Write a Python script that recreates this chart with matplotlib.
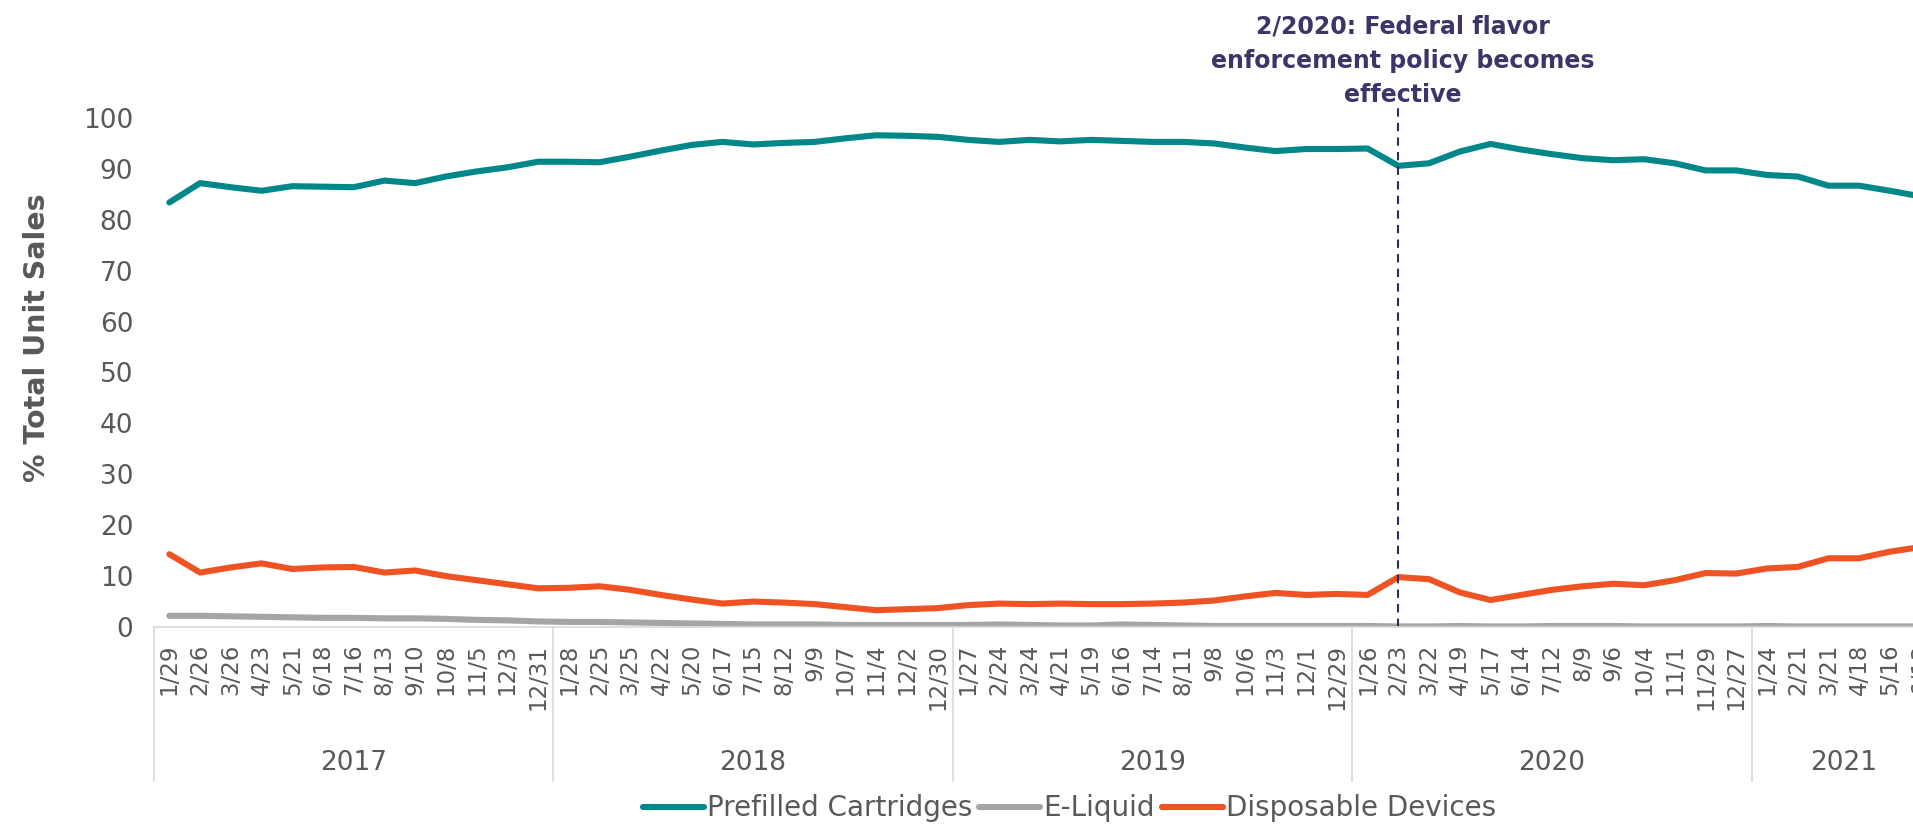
import matplotlib
matplotlib.use("Agg")
import matplotlib.pyplot as plt
import numpy as np

# 4-week periods, 2017 - mid 2021
years = ["2017", "2018", "2019", "2020", "2021"]
period_labels = [
    "1/29", "2/26", "3/26", "4/23", "5/21", "6/18", "7/16", "8/13", "9/10", "10/8", "11/5", "12/3", "12/31",
    "1/28", "2/25", "3/25", "4/22", "5/20", "6/17", "7/15", "8/12", "9/9", "10/7", "11/4", "12/2", "12/30",
    "1/27", "2/24", "3/24", "4/21", "5/19", "6/16", "7/14", "8/11", "9/8", "10/6", "11/3", "12/1", "12/29",
    "1/26", "2/23", "3/22", "4/19", "5/17", "6/14", "7/12", "8/9", "9/6", "10/4", "11/1", "11/29", "12/27",
    "1/24", "2/21", "3/21", "4/18", "5/16", "6/13",
]
year_counts = [13, 13, 13, 13, 6]

prefilled = [
    83.4, 87.2, 86.4, 85.7, 86.6, 86.5, 86.4, 87.7, 87.2, 88.5, 89.5, 90.3, 91.4,
    91.4, 91.3, 92.4, 93.6, 94.7, 95.3, 94.8, 95.1, 95.3, 96.0, 96.6, 96.5, 96.3,
    95.7, 95.3, 95.7, 95.4, 95.7, 95.5, 95.3, 95.3, 95.0, 94.2, 93.5, 93.9, 93.9,
    94.0, 90.6, 91.1, 93.4, 94.9, 93.8, 92.9, 92.1, 91.7, 91.9, 91.1, 89.7, 89.7,
    88.8, 88.5, 86.7, 86.7, 85.7, 84.6,
]
eliquid = [
    2.2, 2.2, 2.1, 2.0, 1.9, 1.8, 1.8, 1.7, 1.7, 1.6, 1.4, 1.3, 1.1,
    1.0, 1.0, 0.9, 0.8, 0.7, 0.6, 0.5, 0.5, 0.5, 0.4, 0.4, 0.4, 0.4,
    0.4, 0.5, 0.4, 0.3, 0.3, 0.5, 0.4, 0.3, 0.2, 0.2, 0.2, 0.2, 0.2,
    0.2, 0.1, 0.1, 0.2, 0.1, 0.1, 0.2, 0.2, 0.2, 0.1, 0.1, 0.1, 0.1,
    0.2, 0.1, 0.1, 0.1, 0.1, 0.1,
]
disposable = [
    14.3, 10.7, 11.7, 12.5, 11.4, 11.7, 11.8, 10.7, 11.1, 10.0, 9.2, 8.4, 7.6,
    7.7, 8.0, 7.3, 6.3, 5.4, 4.6, 5.0, 4.8, 4.5, 3.9, 3.3, 3.5, 3.7,
    4.3, 4.6, 4.5, 4.6, 4.5, 4.5, 4.6, 4.8, 5.2, 6.0, 6.7, 6.3, 6.5,
    6.3, 9.8, 9.4, 6.8, 5.3, 6.3, 7.3, 8.0, 8.5, 8.2, 9.2, 10.6, 10.5,
    11.5, 11.8, 13.5, 13.5, 14.8, 15.7,
]

event_label = "2/2020: Federal flavor\nenforcement policy becomes\neffective"
event_period = "2/23"
event_year = "2020"

x = np.arange(len(period_labels))
txt = "#595959"

fig = plt.figure(figsize=(19.13, 8.25), dpi=100)
ax = fig.add_axes([0.0805, 0.24, 0.9315, 0.617])

ax.plot(x, prefilled, color="#00878a", lw=4.4, solid_capstyle="round", label="Prefilled Cartridges")
ax.plot(x, eliquid, color="#a5a5a5", lw=4.4, solid_capstyle="round", label="E-Liquid")
ax.plot(x, disposable, color="#f05323", lw=4.4, solid_capstyle="round", label="Disposable Devices")

ax.set_xlim(-0.5, len(x) - 0.5)
ax.set_ylim(0, 100)
ax.set_yticks(np.arange(0, 101, 10))
ax.set_xticks(x)
ax.set_xticklabels(period_labels, rotation=90, fontsize=16.5, color=txt)
ax.tick_params(axis="x", length=0, pad=12)
ax.tick_params(axis="y", length=0, pad=15, labelsize=19, labelcolor=txt)
for s in ["top", "right", "left"]:
    ax.spines[s].set_visible(False)
ax.spines["bottom"].set_color("#d9d9d9")
ax.spines["bottom"].set_linewidth(1.2)

# year boxes under the axis
trans = ax.get_xaxis_transform()
start = 0
bounds = [-0.5]
year_start = {}
for y, n in zip(years, year_counts):
    year_start[y] = start
    ax.text(start + (n - 1) / 2, -0.267, y, transform=trans, ha="center", va="center",
            fontsize=19, color=txt)
    start += n
    bounds.append(start - 0.5)
for b in bounds:
    ax.plot([b, b], [0, -0.3026], transform=trans, color="#d9d9d9", lw=1.2, clip_on=False)

# event marker
s0 = year_start[event_year]
ex = x[s0 + period_labels[s0:].index(event_period)]
ax.plot([ex, ex], [0, 102.2], color="#2f2b5e", lw=1.5, dashes=(4, 3), clip_on=False)
ax.text(ex + 0.15, 111.2, event_label, ha="center", va="center", fontsize=17,
        fontweight="bold", color="#3b3667", linespacing=1.55, clip_on=False)

fig.text(37 / 1913, 1 - 338 / 825, "% Total Unit Sales", rotation=90, ha="center", va="center",
         fontsize=20.5, fontweight="bold", color=txt)

leg = fig.legend(loc="center", bbox_to_anchor=(0.559, 0.02), ncol=3, frameon=False,
                 fontsize=20, handlelength=2.2, handletextpad=0.1, columnspacing=0.25)
for t in leg.get_texts():
    t.set_color(txt)

fig.savefig("out.png", dpi=100)
